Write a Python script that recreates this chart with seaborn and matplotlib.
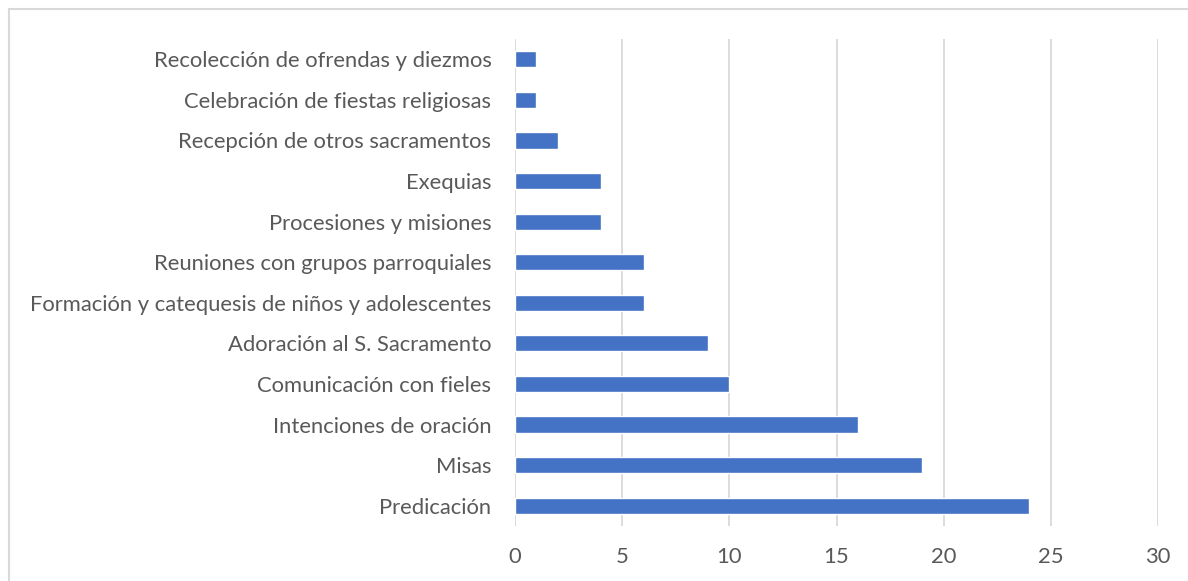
import matplotlib
matplotlib.use("Agg")
import matplotlib.pyplot as plt
import seaborn as sns
import pandas as pd
from matplotlib.patches import Rectangle

categories = [
    "Recolección de ofrendas y diezmos",
    "Celebración de fiestas religiosas",
    "Recepción de otros sacramentos",
    "Exequias",
    "Procesiones y misiones",
    "Reuniones con grupos parroquiales",
    "Formación y catequesis de niños y adolescentes",
    "Adoración al S. Sacramento",
    "Comunicación con fieles",
    "Intenciones de oración",
    "Misas",
    "Predicación",
]
values = [1, 1, 2, 4, 4, 6, 6, 9, 10, 16, 19, 24]
x_ticks = [0, 5, 10, 15, 20, 25, 30]

df = pd.DataFrame({"cat": categories, "val": values})

sns.set_theme(style="white")
plt.rcParams["font.family"] = ["Lato", "DejaVu Sans"]

fig = plt.figure(figsize=(11.88, 5.81), dpi=100)
ax = fig.add_axes([515 / 1188, 1 - 526 / 581, (1158 - 515) / 1188, (526 - 39) / 581])

sns.barplot(data=df, x="val", y="cat", order=categories, color="#4472C4",
            saturation=1, width=0.4, orient="h", ax=ax, zorder=3)

ax.set_xlim(0, 30)
ax.set_xticks(x_ticks)
ax.set_xticklabels([str(t) for t in x_ticks])
ax.grid(axis="x", color="#D9D9D9", linewidth=1.3, zorder=0)
ax.grid(axis="y", visible=False)
for s in ax.spines.values():
    s.set_visible(False)
ax.set_xlabel("")
ax.set_ylabel("")
ax.tick_params(axis="x", length=0, pad=15, labelsize=15.8, labelcolor="#595959")
ax.tick_params(axis="y", length=0, pad=17, labelsize=15.8, labelcolor="#595959")

fig.patches.append(Rectangle((8.5 / 1188, -0.1), 1.2, 1.1 - 8.5 / 581,
                             transform=fig.transFigure, fill=False,
                             edgecolor="#D9D9D9", linewidth=1.5))

fig.savefig("out.png", dpi=100)
